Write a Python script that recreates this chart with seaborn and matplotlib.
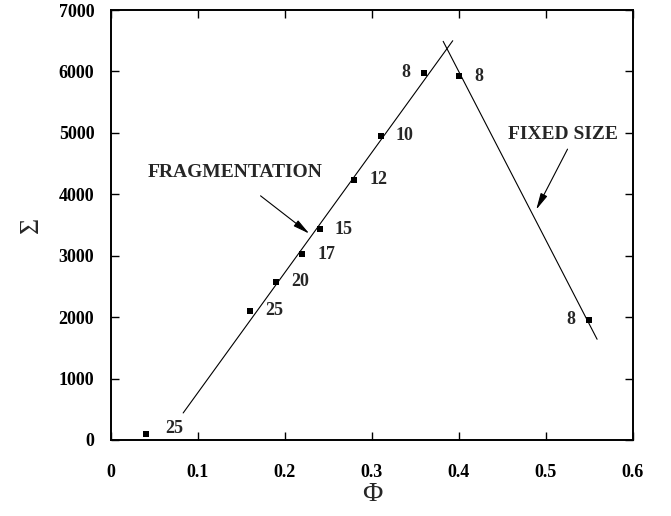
import numpy as np
import pandas as pd
import matplotlib
matplotlib.use("Agg")
import matplotlib.pyplot as plt
import seaborn as sns

# Data
phi = [0.04, 0.16, 0.19, 0.22, 0.24, 0.28, 0.31, 0.36, 0.40, 0.55]
sigma = [100, 2100, 2580, 3020, 3430, 4240, 4950, 5980, 5920, 1960]
point_labels = ["25", "25", "20", "17", "15", "12", "10", "8", "8", "8"]
label_side = ["right", "right", "right", "right", "right", "right", "right", "left", "right", "left"]

frag_phi = [0.083, 0.393]
frag_sigma = [440, 6500]
fixed_phi = [0.382, 0.559]
fixed_sigma = [6490, 1640]

x_ticks = [0, 0.1, 0.2, 0.3, 0.4, 0.5, 0.6]
x_ticklabels = ["0", "0.1", "0.2", "0.3", "0.4", "0.5", "0.6"]
y_ticks = [0, 1000, 2000, 3000, 4000, 5000, 6000, 7000]

sns.set_style("ticks")
plt.rcParams['font.family'] = ['Liberation Serif', 'DejaVu Serif']

fig = plt.figure(figsize=(6.71, 5.16), dpi=100)
ax = fig.add_axes([0.1654, 0.1473, 0.7776, 0.8333])

df = pd.DataFrame({"phi": phi, "sigma": sigma})
sns.scatterplot(data=df, x="phi", y="sigma", marker="s", s=24, color="black",
                edgecolor="black", linewidth=0, ax=ax, zorder=3)
sns.lineplot(x=frag_phi, y=frag_sigma, color="black", linewidth=0.8, ax=ax)
sns.lineplot(x=fixed_phi, y=fixed_sigma, color="black", linewidth=0.8, ax=ax)

for x, y, lab, side in zip(phi, sigma, point_labels, label_side):
    if side == "right":
        dx, ha = 11, "left"
    else:
        dx, ha = -10, "right"
    if y < 500:
        dx = 14
    dy = 4 if y < 500 else 0
    ax.annotate(lab, (x, y), xytext=(dx, dy), textcoords="offset points",
                ha=ha, va="center", fontsize=13, fontweight="bold")

ax.text(0.0425, 4360, "FRAGMENTATION", fontsize=14, fontweight="bold",
        ha="left", va="center")
ax.annotate("", xy=(0.228, 3360), xytext=(0.172, 3975),
            arrowprops=dict(arrowstyle="-|>,head_length=1.0,head_width=0.22",
                            color="black", lw=0.8, shrinkA=0, shrinkB=0))
ax.text(0.456, 4980, "FIXED SIZE", fontsize=14, fontweight="bold",
        ha="left", va="center")
ax.annotate("", xy=(0.489, 3750), xytext=(0.525, 4735),
            arrowprops=dict(arrowstyle="-|>,head_length=1.0,head_width=0.22",
                            color="black", lw=0.8, shrinkA=0, shrinkB=0))

ax.set_xlim(0, 0.6)
ax.set_ylim(0, 7000)
ax.set_xticks(x_ticks)
ax.set_xticklabels(x_ticklabels)
ax.set_yticks(y_ticks)
ax.tick_params(direction="in", length=6, width=1, top=True, right=True,
               labelsize=13, colors="black")
ax.tick_params(axis="x", pad=17)
ax.tick_params(axis="y", pad=12)
for lab in ax.get_xticklabels() + ax.get_yticklabels():
    lab.set_fontweight("bold")
for sp in ax.spines.values():
    sp.set_linewidth(1.4)
    sp.set_color("black")

ax.set_xlabel("Φ", fontsize=20, labelpad=1)
ax.set_ylabel("Σ", fontsize=20, labelpad=20, va="center")

fig.savefig("out.png", dpi=100)
